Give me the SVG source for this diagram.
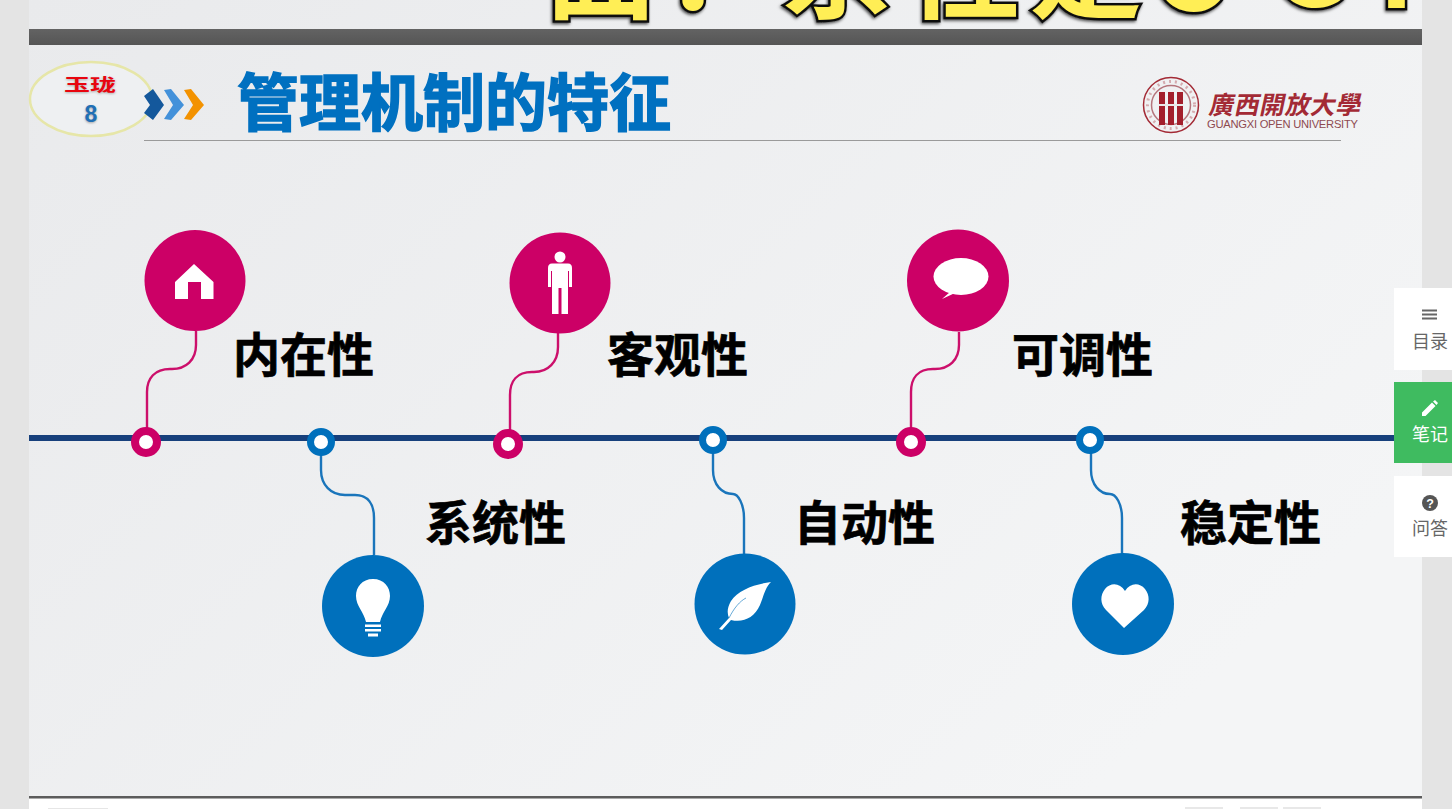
<svg xmlns="http://www.w3.org/2000/svg" width="1452" height="809" viewBox="0 0 1452 809">
<defs>
<linearGradient id="bg" x1="0" y1="0" x2="1" y2="0.6"><stop offset="0" stop-color="#e9eaec"/><stop offset="1" stop-color="#f4f5f6"/></linearGradient>
<linearGradient id="bar" x1="0" y1="0" x2="0" y2="1"><stop offset="0" stop-color="#636363"/><stop offset="1" stop-color="#555"/></linearGradient>
<clipPath id="topclip"><rect x="29" y="0" width="1393" height="29"/></clipPath>
<filter id="soft" x="-30%" y="-30%" width="160%" height="160%"><feGaussianBlur stdDeviation="1.2"/></filter>
<filter id="cap" x="-5%" y="-5%" width="110%" height="110%"><feDropShadow dx="-1" dy="1.500" stdDeviation="1.500" flood-color="#000" flood-opacity=".7"/></filter>
<style>
.cjk{font-family:"Noto Sans CJK SC","Noto Sans CJK JP",sans-serif}
.lab{font-size:47px;font-weight:700;fill:#000;stroke:#000;stroke-width:.7px}
.top{font-size:112px;font-weight:700;fill:#ffee55;stroke:#111;stroke-width:5px;paint-order:stroke}
.tab{font-size:18px;fill:#666;text-anchor:middle}
.pk{fill:#cc0066}.bl{fill:#0070bc}
.wire{fill:none;stroke-width:2.4}
.wp{stroke:#cc0f6b}.wb{stroke:#1a75bb}
.dotp{fill:#fff;stroke:#cc0066;stroke-width:8}
.dotb{fill:#fff;stroke:#0070bc;stroke-width:7}
.ic{fill:#fff}
</style>
</defs>
<rect width="1452" height="809" fill="#e4e4e4"/>
<g id="slide">
<rect x="29" y="0" width="1393" height="797" fill="url(#bg)"/>
<rect x="29" y="29" width="1393" height="16" fill="url(#bar)"/>
<rect x="29" y="796" width="1393" height="2" fill="#5c5c5c"/>
<rect x="29" y="798" width="1393" height="1" fill="#aaa"/>
<rect x="29" y="799" width="1393" height="10" fill="#fff"/>
<rect x="48" y="808" width="60" height="1" fill="#e6e6e6"/>
<rect x="1185" y="807" width="38" height="2" fill="#e8e8e8"/>
<rect x="1240" y="807" width="38" height="2" fill="#e8e8e8"/>
<rect x="1283" y="807" width="38" height="2" fill="#e8e8e8"/>
</g>
<g id="caption" clip-path="url(#topclip)"><g class="cjk" filter="url(#cap)">
<text class="top" x="545" y="10">面</text>
<text class="top" x="665" y="10">：</text>
<text class="top" x="781" y="10">系</text>
<text class="top" x="908" y="10">性</text>
<text class="top" x="1030" y="10">是</text>
<text class="top" x="1150" y="10">C</text>
<text class="top" x="1270" y="6">G</text>
<text class="top" x="1378" y="8">H</text>
</g></g>
<g id="badge">
<ellipse cx="91" cy="99" rx="61" ry="37" fill="#eef0f2" stroke="#e6e6a8" stroke-width="2.5"/>
<text class="cjk" font-size="20" font-weight="700" fill="#555" opacity=".45" text-anchor="middle" filter="url(#soft)" transform="translate(90 92) scale(1.3 .85)">玉珑</text>
<text class="cjk" font-size="20" font-weight="700" fill="#e8050f" text-anchor="middle" transform="translate(90 90.500) scale(1.3 .85)">玉珑</text>
<text x="91" y="123" font-family="'Liberation Sans',sans-serif" font-size="23" font-weight="700" fill="#555" opacity=".5" text-anchor="middle" filter="url(#soft)">8</text>
<text x="91" y="122" font-family="'Liberation Sans',sans-serif" font-size="23" font-weight="700" fill="#1f6fb5" text-anchor="middle">8</text>
</g>
<g id="chevrons">
<path d="M144 96 L153 89 L164 105 L153 120 L144 113 L150 105Z" fill="#14589c"/>
<path d="M164 90 L171 89 L184 105 L171 120 L164 119 L173 105Z" fill="#4391da"/>
<path d="M184 90 L191 89 L204 105 L191 120 L184 119 L193 105Z" fill="#f39200"/>
</g>
<g id="title">
<text class="cjk" x="237" y="126" font-size="62" font-weight="700" fill="#0070c0" stroke="#0070c0" stroke-width="1.6">管理机制的特征</text>
<rect x="144" y="140" width="1197" height="1" fill="#9a9a9a"/>
</g>
<g id="logo">
<circle cx="1171" cy="105" r="27.500" fill="none" stroke="#a32a35" stroke-width="1.500"/>
<circle cx="1171" cy="105" r="19.500" fill="none" stroke="#b5757c" stroke-width="1.500"/>
<circle cx="1171" cy="105" r="23.500" fill="none" stroke="#a32a35" stroke-width="3" stroke-dasharray="2 4" opacity=".35"/>
<path d="M1159 92h6v33h-6zM1168 92h6v33h-6zM1177 92h6v33h-6z" fill="#a31f2c"/>
<rect x="1159" y="104" width="24" height="2" fill="#e8e8e8"/>
<text class="cjk" x="0" y="0" font-size="25" font-weight="700" fill="#a32a35" textLength="152" lengthAdjust="spacing" transform="translate(1208 114) skewX(-12)">廣西開放大學</text>
<text x="1207" y="128" font-family="'Liberation Sans',sans-serif" font-size="11.200" fill="#8e4a50" textLength="151">GUANGXI OPEN UNIVERSITY</text>
</g>
<g id="connectors">
<path d="M29 438H1394" stroke="#17407c" stroke-width="6" fill="none"/>
<path class="wire wp" d="M196 331V345C196 360 186 369 172 369H170C155 369 147 378 147 392V430"/>
<path class="wire wp" d="M558 333V347C558 362 548 372 534 372H532C517 372 510 381 510 395V432"/>
<path class="wire wp" d="M959 332V345C959 360 949 369 935 369H933C918 369 911 378 911 392V430"/>
<path class="wire wb" d="M321 453V470C321 485 331 495 345 495H355C368 495 374 504 374 518V555"/>
<path class="wire wb" d="M713 452V470C713 485 722 494 733 494C738 494 744 504 744 518V554"/>
<path class="wire wb" d="M1091 452V470C1091 485 1100 494 1110 494C1116 494 1122 504 1122 518V554"/>
</g>
<g id="n1">
<circle class="dotp" cx="146" cy="442" r="11"/>
<circle class="pk" cx="195" cy="280.500" r="50.500"/>
<path class="ic" d="M194 264L213.500 282V299H201V282H188V299H175V282Z"/>
<text class="cjk lab" x="233" y="372">内在性</text>
</g>
<g id="n2">
<circle class="dotb" cx="321" cy="442" r="10.500"/>
<circle class="bl" cx="373" cy="606" r="51"/>
<path class="ic" d="M373 579C384 579 390 587 390 596C390 606 382 612 380 622H366C364 612 356 606 356 596C356 587 362 579 373 579Z"/>
<path class="ic" d="M365 624.500H381V627H365ZM365 629H381V631.500H365ZM368 633.500H378V636.500H368Z"/>
<text class="cjk lab" x="425" y="540">系统性</text>
</g>
<g id="n3">
<circle class="dotp" cx="508" cy="444" r="11"/>
<circle class="pk" cx="560" cy="283" r="50.500"/>
<circle class="ic" cx="560" cy="257" r="5.500"/>
<path class="ic" d="M552 263.500H568Q572 263.500 572 268V287H569V271H568V314H561.500V288H558.500V314H552V271H551V287H548V268Q548 263.500 552 263.500Z"/>
<text class="cjk lab" x="607" y="372">客观性</text>
</g>
<g id="n4">
<circle class="dotb" cx="713" cy="440" r="10.500"/>
<circle class="bl" cx="745" cy="604" r="50.500"/>
<path class="ic" d="M771 582C755 584 738 590 731 601C727 608 727 613 729 618L719 629L722 630L731 620C743 623 754 618 760 605C764 595 765 588 771 582Z"/>
<path d="M729 618C734 608 740 601 746 598" fill="none" stroke="#0070bc" stroke-width=".6"/>
<text class="cjk lab" x="794" y="540">自动性</text>
</g>
<g id="n5">
<circle class="dotp" cx="911" cy="442" r="11"/>
<circle class="pk" cx="958" cy="280.500" r="51"/>
<ellipse class="ic" cx="961" cy="276.500" rx="27.500" ry="18.500"/>
<path class="ic" d="M950 292L942 299L955 293Z"/>
<text class="cjk lab" x="1012" y="372">可调性</text>
</g>
<g id="n6">
<circle class="dotb" cx="1090" cy="440" r="10.500"/>
<circle class="bl" cx="1123" cy="604" r="51"/>
<path class="ic" d="M1124 628L1106 610C1100 604 1100 595 1105 589C1111 582 1120 583 1125 591C1130 583 1139 582 1145 589C1150 595 1150 604 1144 610Z"/>
<text class="cjk lab" x="1180" y="540">稳定性</text>
</g>
<g id="sidebar">
<g id="tab-toc">
<rect x="1394" y="288" width="58" height="82" fill="#fff"/>
<path d="M1422 309.500h15v2h-15zM1422 313.500h15v2h-15zM1422 317.500h15v2h-15z" fill="#666"/>
<text class="cjk tab" x="1430" y="348">目录</text>
</g>
<g id="tab-note">
<rect x="1394" y="382" width="58" height="81" fill="#3fbb60"/>
<path d="M1422 416V412.500L1432 402.500L1435.500 406L1425.500 416ZM1433 401.500L1435 400L1438 403L1436.500 405Z" fill="#fff"/>
<text class="cjk tab" style="fill:#fff" x="1430" y="441">笔记</text>
</g>
<g id="tab-qa">
<rect x="1394" y="476" width="58" height="81" fill="#fff"/>
<circle cx="1430" cy="503" r="8" fill="#555"/>
<text x="1430" y="507.500" font-family="'Liberation Sans',sans-serif" font-size="12.500" font-weight="700" fill="#fff" text-anchor="middle">?</text>
<text class="cjk tab" x="1430" y="535">问答</text>
</g>
</g>
</svg>
